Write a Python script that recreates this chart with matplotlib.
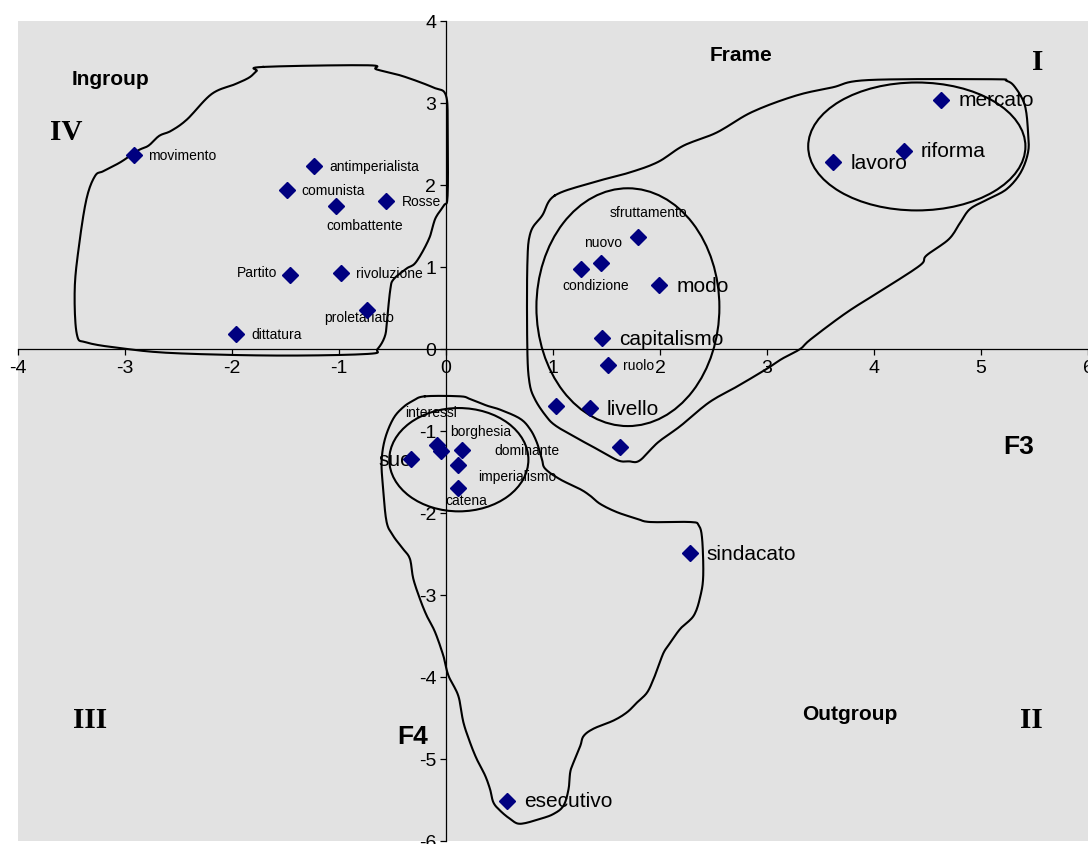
import numpy as np
import matplotlib
matplotlib.use("Agg")
import matplotlib.pyplot as plt
from matplotlib.patches import Ellipse

plt.rcParams["font.family"] = ["Liberation Sans", "DejaVu Sans"]
plt.rcParams["axes.unicode_minus"] = False

# word coordinates on the F3 / F4 plane
words = ["movimento", "antimperialista", "comunista", "combattente", "Rosse",
         "Partito", "rivoluzione", "proletariato", "dittatura",
         "mercato", "riforma", "lavoro", "sfruttamento", "nuovo", "condizione",
         "modo", "capitalismo", "ruolo", "", "livello", "",
         "suo", "interessi", "borghesia", "dominante", "imperialismo", "catena",
         "sindacato", "esecutivo"]
f3 = [-2.92, -1.23, -1.49, -1.03, -0.56, -1.46, -0.98, -0.74, -1.96,
      4.63, 4.28, 3.62, 1.79, 1.45, 1.26, 1.99, 1.46, 1.51, 1.03, 1.35, 1.63,
      -0.33, -0.08, -0.05, 0.15, 0.11, 0.11, 2.28, 0.57]
f4 = [2.36, 2.23, 1.94, 1.75, 1.80, 0.90, 0.93, 0.48, 0.18,
      3.04, 2.42, 2.28, 1.37, 1.05, 0.97, 0.78, 0.13, -0.19, -0.69, -0.72, -1.20,
      -1.34, -1.17, -1.24, -1.23, -1.42, -1.70, -2.49, -5.51]
big_words = {"mercato", "riforma", "lavoro", "modo", "capitalismo", "livello",
             "sindacato", "esecutivo", "suo"}

# label placement: (dx, dy) in points, horizontal alignment
label_pos = {
    "movimento": (10.5, 0, "left"), "antimperialista": (11, 0, "left"),
    "comunista": (11, 0, "left"), "combattente": (-6.5, -14.4, "left"),
    "Rosse": (11.5, 0, "left"), "Partito": (-8.7, 2, "right"),
    "rivoluzione": (11, 0, "left"), "proletariato": (-30.5, -5.3, "left"),
    "dittatura": (10.8, 0, "left"),
    "mercato": (12.5, 0, "left"), "riforma": (12.2, 0, "left"),
    "lavoro": (12.5, 0, "left"), "sfruttamento": (-20.3, 17.6, "left"),
    "nuovo": (-12, 14.9, "left"), "condizione": (-13.5, -11, "left"),
    "modo": (12.5, 0, "left"), "capitalismo": (12.2, 0, "left"),
    "ruolo": (11.2, 0, "left"), "livello": (12, 0, "left"),
    "suo": (1, -0.5, "right"), "interessi": (-23.5, 23.5, "left"),
    "borghesia": (7.2, 14.2, "left"), "dominante": (23.5, 0, "left"),
    "imperialismo": (14.7, -7.9, "left"), "catena": (-8.6, -8.2, "left"),
    "sindacato": (12, 0, "left"), "esecutivo": (12, 0, "left"),
}

# hand-drawn group outlines (F3, F4)
ingroup_x = [-1.71, -0.73, -0.65, -0.41, -0.12, 0.00, 0.015, 0.015, -0.02, -0.10,
             -0.16, -0.28, -0.37, -0.49, -0.52, -0.55, -0.57, -0.64, -0.73, -1.58,
             -2.55, -3.04, -3.36, -3.45, -3.47, -3.43, -3.36, -3.28, -3.20, -3.04,
             -2.88, -2.78, -2.68, -2.57, -2.42, -2.19, -1.97, -1.84, -1.77]
ingroup_y = [3.44, 3.46, 3.41, 3.33, 3.19, 3.09, 2.65, 1.87, 1.75, 1.59,
             1.34, 1.06, 0.98, 0.85, 0.73, 0.37, 0.16, 0.00, -0.06, -0.08,
             -0.05, 0.01, 0.08, 0.18, 0.73, 1.26, 1.83, 2.11, 2.17, 2.28,
             2.42, 2.48, 2.60, 2.66, 2.80, 3.11, 3.23, 3.31, 3.39]

frame_x = [1.015, 1.37, 1.71, 1.98, 2.22, 2.53, 2.86, 3.27, 3.61, 3.95, 5.10, 5.24,
           5.32, 5.41, 5.44, 5.44, 5.37, 5.24, 5.07, 4.90, 4.81, 4.70, 4.49, 4.43,
           4.09, 3.75, 3.41, 3.31, 3.14, 3.00, 2.73, 2.46, 2.19, 1.98, 1.81, 1.71,
           1.61, 1.44, 1.27, 1.03, 0.93, 0.83, 0.78, 0.76, 0.76, 0.79, 0.90]
frame_y = [1.87, 2.03, 2.15, 2.28, 2.48, 2.64, 2.89, 3.09, 3.19, 3.28, 3.29, 3.27,
           3.19, 2.97, 2.64, 2.40, 2.15, 1.95, 1.83, 1.71, 1.55, 1.34, 1.14, 1.02,
           0.73, 0.45, 0.12, 0.00, -0.12, -0.24, -0.45, -0.65, -0.94, -1.14, -1.36, -1.37,
           -1.36, -1.24, -1.12, -0.94, -0.81, -0.61, -0.41, 0.00, 1.02, 1.42, 1.63]

outgroup_x = [-0.197, 0.131, 0.225, 0.381, 0.506, 0.693, 0.787, 0.849, 0.896, 0.927,
              1.067, 1.255, 1.348, 1.442, 1.598, 1.786, 1.910, 2.285, 2.362, 2.394,
              2.404, 2.378, 2.316, 2.191, 2.097, 2.035, 1.988, 1.941, 1.879, 1.786,
              1.692, 1.567, 1.379, 1.286, 1.255, 1.192, 1.161, 1.145, 1.098, 1.005,
              0.880, 0.693, 0.599, 0.506, 0.443, 0.412, 0.365, 0.287, 0.225, 0.162,
              0.115, 0.022, -0.025, -0.103, -0.181, -0.243, -0.306, -0.337, -0.400,
              -0.493, -0.555, -0.587, -0.602, -0.571, -0.493, -0.400, -0.306]
outgroup_y = [-0.577, -0.577, -0.61, -0.69, -0.74, -0.85, -0.98, -1.14, -1.34, -1.46,
              -1.59, -1.71, -1.79, -1.89, -1.99, -2.07, -2.11, -2.11, -2.15, -2.32,
              -2.76, -3.01, -3.25, -3.41, -3.58, -3.70, -3.86, -4.02, -4.19, -4.31,
              -4.43, -4.53, -4.63, -4.72, -4.84, -5.04, -5.16, -5.37, -5.57, -5.67,
              -5.73, -5.79, -5.73, -5.63, -5.53, -5.37, -5.20, -5.00, -4.80, -4.55,
              -4.23, -3.98, -3.74, -3.45, -3.25, -3.05, -2.80, -2.56, -2.44,
              -2.28, -2.11, -1.71, -1.38, -1.10, -0.85, -0.71, -0.63]

# sub-cluster ellipses: centre, width, height
ellipses = [((1.70, 0.51), 1.71, 2.90),
            ((4.40, 2.47), 2.03, 1.56),
            ((0.12, -1.35), 1.30, 1.26)]

# region captions: text, x, y, size, serif, ha
captions = [("Ingroup", -3.50, 3.30, 15, False, "left"),
            ("IV", -3.70, 2.65, 21, True, "left"),
            ("Frame", 2.46, 3.59, 15, False, "left"),
            ("I", 5.53, 3.50, 21, True, "center"),
            ("F3", 5.21, -1.18, 19, False, "left"),
            ("F4", -0.46, -4.72, 19, False, "left"),
            ("III", -3.49, -4.52, 21, True, "left"),
            ("Outgroup", 3.33, -4.44, 15, False, "left"),
            ("II", 5.47, -4.52, 21, True, "center")]


def smooth_closed(xs, ys, n=10):
    # closed Catmull-Rom through the traced outline
    p = np.column_stack([xs, ys])
    m = len(p)
    t = np.linspace(0, 1, n, endpoint=False)[:, None]
    segs = []
    for i in range(m):
        p0, p1, p2, p3 = p[(i - 1) % m], p[i], p[(i + 1) % m], p[(i + 2) % m]
        segs.append(0.5 * (2 * p1 + (-p0 + p2) * t
                           + (2 * p0 - 5 * p1 + 4 * p2 - p3) * t ** 2
                           + (-p0 + 3 * p1 - 3 * p2 + p3) * t ** 3))
    out = np.vstack(segs + [p[:1]])
    return out[:, 0], out[:, 1]


fig = plt.figure(figsize=(10.88, 8.45), dpi=100, facecolor="white")
ax = fig.add_axes([18 / 1088, 3 / 845, 1070 / 1088, 820 / 845])
ax.set_facecolor("#e2e2e2")
ax.set_xlim(-4, 6)
ax.set_ylim(-6, 4)

for sp in ("top", "right"):
    ax.spines[sp].set_visible(False)
ax.spines["left"].set_position(("data", 0))
ax.spines["bottom"].set_position(("data", 0))
for sp in ("left", "bottom"):
    ax.spines[sp].set_linewidth(0.9)
    ax.spines[sp].set_zorder(1)
ax.set_xticks(range(-4, 7))
ax.set_yticks(range(-6, 5))
ax.tick_params(direction="out", length=4, width=0.9, labelsize=14, pad=3)

for xs, ys in ((ingroup_x, ingroup_y), (frame_x, frame_y), (outgroup_x, outgroup_y)):
    sx, sy = smooth_closed(xs, ys)
    ax.plot(sx, sy, color="black", lw=1.5, zorder=2)
for (cx, cy), w, h in ellipses:
    ax.add_patch(Ellipse((cx, cy), w, h, fill=False, ec="black", lw=1.5, zorder=2))

ax.plot(f3, f4, "D", color="#000080", ms=8.5, ls="", zorder=4)

for w, x, y in zip(words, f3, f4):
    if not w:
        continue
    dx, dy, ha = label_pos[w]
    ax.annotate(w, (x, y), textcoords="offset points", xytext=(dx, dy),
                fontsize=15 if w in big_words else 10, ha=ha, va="center",
                color="black", zorder=3)

for txt, x, y, size, serif, ha in captions:
    ax.text(x, y, txt, fontsize=size, fontweight="bold", ha=ha, va="center",
            family=["Liberation Serif"] if serif else ["Liberation Sans"], zorder=3)

fig.savefig("out.png", dpi=100, facecolor="white")
